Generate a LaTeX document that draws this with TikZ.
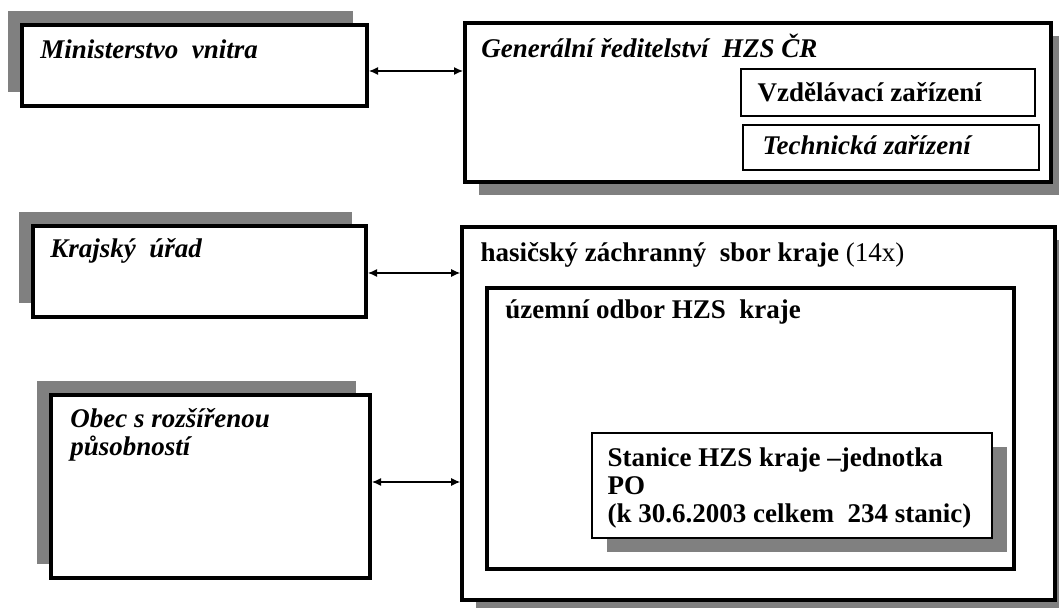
\documentclass[tikz,border=0pt]{standalone}
\usepackage{fontspec}
\setmainfont{Liberation Serif}
\usetikzlibrary{shapes,arrows,arrows.meta,shadows}
\definecolor{shadowgray}{HTML}{808080}
\tikzstyle{block} = [rectangle, draw, line width=2pt, fill=white, inner sep=0pt]
\tikzstyle{subblock} = [rectangle, draw, line width=0.8pt, fill=white, inner sep=0pt]
\tikzstyle{shadowul} = [drop shadow={shadow xshift=-7pt, shadow yshift=7pt, opacity=1, fill=shadowgray}]
\tikzstyle{shadowdr} = [drop shadow={shadow xshift=7pt, shadow yshift=-6.5pt, opacity=1, fill=shadowgray}]
\tikzstyle{boxtext} = [anchor=base west, inner sep=0pt, align=left, font=\fontsize{13.5}{14}\selectfont\bfseries]
\tikzstyle{boxtexti} = [boxtext, font=\fontsize{13.5}{14}\selectfont\bfseries\itshape]
\tikzstyle{line} = [draw, line width=0.6pt, {Latex[length=4.5pt,width=4pt]}-{Latex[length=4.5pt,width=4pt]}]

\begin{document}
\begin{tikzpicture}[x=0.5pt,y=-0.5pt]
      \useasboundingbox (0,0) rectangle (1059,608);

      % left column
      \node [block, shadowul, minimum width=172.5pt, minimum height=40.5pt] (ministerstvo) at (194.5,65.5) {};
      \node [boxtexti] (ministerstvotxt) at ([shift={(20,36)}]ministerstvo.north west) {Ministerstvo\ \ vnitra};

      \node [block, shadowul, minimum width=166.5pt, minimum height=45.5pt] (krajurad) at (199.5,271.5) {};
      \node [boxtexti] (krajuradtxt) at ([shift={(19,34)}]krajurad.north west) {Krajský\ \ úřad};

      \node [block, shadowul, minimum width=159.5pt, minimum height=91.5pt] (obec) at (210.5,486.5) {};
      \node [boxtexti] (obectxt) at ([shift={(21,63)}]obec.north west) {Obec s rozšířenou\\působností};

      % right column
      \node [block, shadowdr, minimum width=293pt, minimum height=79.5pt] (reditelstvi) at (758,102.5) {};
      \node [boxtexti] (reditelstvitxt) at ([shift={(18,37)}]reditelstvi.north west) {Generální ředitelství\ \ HZS ČR};
      \node [subblock, minimum width=147pt, minimum height=23.5pt] (vzdelavaci) at (888,92.5) {};
      \node [boxtext] (vzdelavacitxt) at ([shift={(17,33)}]vzdelavaci.north west) {Vzdělávací zařízení};
      \node [subblock, minimum width=148pt, minimum height=22.5pt] (technicka) at (891,147.5) {};
      \node [boxtexti] (technickatxt) at ([shift={(20,30)}]technicka.north west) {Technická zařízení};

      \node [block, line width=1.8pt, shadowdr, minimum width=296.5pt, minimum height=186.5pt] (hzskraje) at (758.5,413.5) {};
      \node [boxtext] (hzskrajetxt) at ([shift={(20,36)}]hzskraje.north west) {hasičský záchranný\ \ sbor kraje \mdseries(14x)};
      \node [block, minimum width=263.5pt, minimum height=140.5pt] (odbor) at (750.5,428.5) {};
      \node [boxtext] (odbortxt) at ([shift={(20,33)}]odbor.north west) {územní odbor HZS\ \ kraje};
      \node [subblock, line width=0.7pt, drop shadow={shadow xshift=7.5pt, shadow yshift=-7pt, opacity=1, fill=shadowgray}, minimum width=200pt, minimum height=52.5pt] (stanice) at (792,485.5) {};
      \node [boxtext] (stanicetxt) at ([shift={(16,90)}]stanice.north west) {Stanice HZS kraje –jednotka\\PO\\(k 30.6.2003 celkem\ \ 234 stanic)};

      % connectors
      \coordinate (m1) at ([yshift=-2.75pt]ministerstvo.east);
      \coordinate (k1) at ([yshift=-0.75pt]krajurad.east);
      \coordinate (o1) at ([yshift=2.25pt]obec.east);
      \path [line] (m1) -- (m1 -| reditelstvi.west);
      \path [line] (k1) -- (k1 -| hzskraje.west);
      \path [line] (o1) -- (o1 -| hzskraje.west);

    \end{tikzpicture}
\end{document}
